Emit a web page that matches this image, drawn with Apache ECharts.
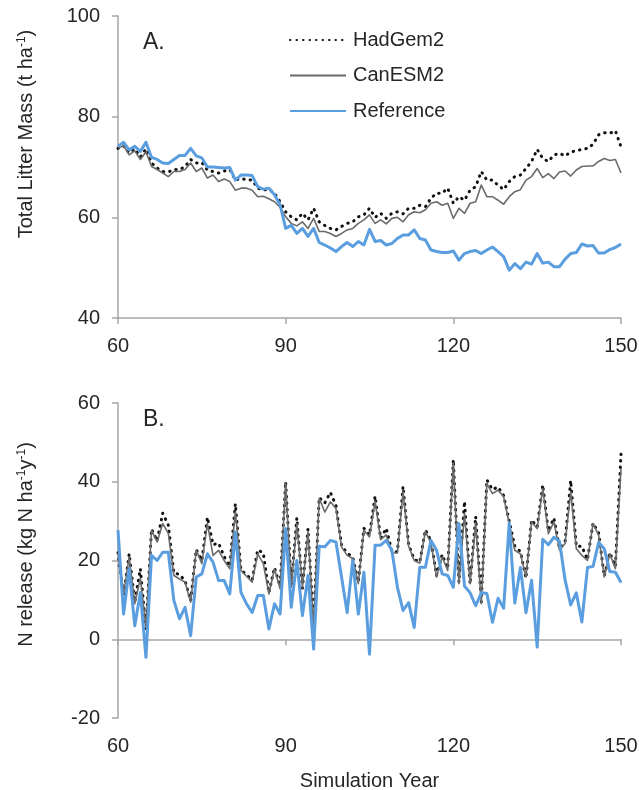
<!DOCTYPE html>
<html>
<head>
<meta charset="utf-8">
<script src="https://cdn.jsdelivr.net/npm/echarts/dist/echarts.min.js"></script>
<style>
  html, body { margin: 0; padding: 0; background: #ffffff; }
  #chart { width: 639px; height: 790px; }
</style>
</head>
<body>
<div id="chart"></div>
<script>
// Simulation years 60 … 150 (annual steps)
const firstYear = 60;
const lastYear = 150;
const xTicks = [60, 90, 120, 150];

const seriesNames = ['HadGem2', 'CanESM2', 'Reference'];

// Panel A: total litter mass (t ha-1), one value per year from 60 to 150
const litterHadGem2 = [
  73.7, 74.2, 72.8, 73.6, 72.0, 73.6, 70.8, 69.8, 69.1, 69.0,
  69.5, 69.5, 70.1, 71.5, 70.8, 70.9, 69.4, 69.1, 68.8, 69.2,
  69.5, 67.4, 67.7, 67.5, 67.4, 65.8, 65.4, 65.6, 64.8, 63.1,
  61.1, 60.1, 59.5, 60.8, 59.5, 61.8, 59.1, 58.4, 57.8, 57.5,
  58.2, 58.8, 59.1, 60.1, 60.5, 61.8, 60.0, 60.8, 59.8, 60.8,
  61.1, 60.7, 61.8, 61.8, 62.4, 62.1, 63.8, 64.8, 64.8, 65.8,
  62.8, 64.1, 63.4, 65.4, 66.1, 69.1, 67.4, 67.4, 66.4, 65.5,
  67.1, 68.1, 68.4, 69.7, 71.1, 73.5, 71.7, 71.1, 72.4, 72.7,
  72.2, 73.0, 73.2, 73.5, 73.7, 74.5, 76.4, 76.8, 76.7, 77.2,
  74.0
];
const litterCanESM2 = [
  73.7, 74.2, 72.4, 73.2, 71.5, 73.0, 70.1, 69.5, 68.8, 68.1,
  69.1, 69.1, 69.5, 70.8, 69.1, 69.8, 67.8, 68.4, 67.1, 67.6,
  67.1, 65.4, 65.8, 65.8, 65.4, 64.1, 64.2, 63.7, 63.1, 62.0,
  60.1, 58.8, 58.3, 59.1, 57.8, 59.8, 57.2, 57.2, 56.8, 56.2,
  56.8, 57.5, 57.8, 58.8, 59.5, 60.5, 58.8, 59.5, 58.7, 59.8,
  60.0, 59.1, 60.5, 61.1, 60.9, 61.5, 62.8, 63.1, 62.4, 62.8,
  59.8, 61.8, 60.8, 62.8, 63.1, 66.4, 64.1, 64.1, 63.4, 62.6,
  64.1, 65.1, 65.5, 67.4, 68.1, 69.7, 67.9, 68.7, 67.7, 69.0,
  69.2, 68.2, 69.4, 70.1, 70.2, 70.2, 71.1, 71.7, 71.3, 71.5,
  68.8
];
const litterReference = [
  74.1, 74.9, 73.4, 74.1, 73.1, 74.9, 71.9, 71.5, 70.8, 70.7,
  71.5, 72.3, 72.3, 73.7, 72.2, 71.8, 70.0, 70.0, 69.9, 69.8,
  69.9, 67.4, 68.4, 68.4, 68.3, 66.1, 65.6, 65.8, 64.5, 62.5,
  57.8, 58.4, 56.8, 57.8, 56.2, 57.8, 55.0, 54.5, 53.9, 53.2,
  54.2, 55.0, 54.2, 55.2, 54.5, 57.6, 55.2, 55.4, 54.5, 54.8,
  55.8, 56.5, 56.5, 57.5, 55.8, 55.5, 53.5, 53.2, 53.0, 53.0,
  53.3, 51.5, 52.8, 53.2, 53.4, 52.8, 53.5, 54.1, 53.2, 52.2,
  49.5, 50.8, 49.8, 51.1, 50.7, 52.8, 50.9, 51.1, 50.2, 50.2,
  51.7, 52.8, 53.0, 54.7, 54.3, 54.4, 52.9, 52.9, 53.6, 54.0,
  54.7
];

// Panel B: N release (kg N ha-1 y-1), one value per year from 60 to 150
const nHadGem2 = [
  22.0, 11.0, 21.7, 9.5, 17.9, 2.5, 28.0, 25.0, 32.0, 29.0,
  16.8, 16.5, 14.8, 9.8, 22.8, 20.0, 31.0, 24.0, 24.4, 21.0,
  18.5, 34.4, 17.6, 16.4, 15.0, 22.7, 21.9, 11.8, 18.2, 13.5,
  40.0, 13.6, 30.8, 13.0, 28.0, 3.5, 36.0, 34.6, 37.3, 34.0,
  23.8, 21.9, 20.8, 14.5, 28.2, 26.5, 36.3, 25.6, 28.2, 22.3,
  22.2, 38.8, 24.0, 20.3, 19.6, 27.8, 25.0, 16.2, 21.5, 18.0,
  45.6, 14.5, 35.0, 14.0, 31.2, 9.5, 40.5, 38.0, 38.7, 36.5,
  30.0, 23.6, 22.3, 15.5, 30.3, 28.5, 39.2, 27.5, 30.8, 23.0,
  24.8, 40.3, 23.6, 23.6, 20.2, 29.5, 27.0, 16.0, 22.0, 18.5,
  47.0
];
const nCanESM2 = [
  22.0, 11.5, 20.9, 9.0, 15.5, 3.0, 27.7, 24.7, 29.4, 26.9,
  16.2, 15.3, 14.5, 9.4, 22.6, 19.2, 29.4, 21.3, 22.6, 20.0,
  17.9, 32.3, 17.4, 16.0, 14.5, 21.7, 19.2, 11.5, 17.9, 12.8,
  39.6, 13.2, 29.4, 13.2, 27.2, 3.0, 35.8, 32.3, 34.9, 33.2,
  23.4, 21.3, 20.5, 14.1, 27.7, 26.0, 35.0, 25.3, 26.5, 21.9,
  21.9, 37.5, 23.6, 20.0, 19.3, 27.4, 24.4, 15.8, 20.9, 17.5,
  44.7, 14.1, 32.0, 14.1, 29.5, 9.0, 39.5, 37.0, 37.9, 36.2,
  29.4, 22.6, 21.7, 15.8, 29.8, 28.1, 38.3, 26.8, 29.8, 22.6,
  24.3, 37.5, 23.0, 21.3, 20.0, 29.4, 26.4, 15.8, 21.7, 17.9,
  43.4
];
const nReference = [
  27.7, 6.4, 17.9, 3.4, 11.9, -4.6, 21.3, 20.0, 22.1, 22.1,
  9.8, 5.2, 8.1, 0.9, 15.8, 16.6, 21.7, 19.6, 14.9, 14.9,
  11.5, 27.2, 11.9, 9.0, 6.8, 11.1, 11.1, 2.6, 9.0, 6.4,
  28.1, 8.1, 20.0, 6.0, 16.2, -2.5, 23.6, 23.5, 25.1, 24.7,
  15.8, 6.8, 20.0, 6.4, 17.0, -3.8, 23.9, 23.9, 25.1, 22.6,
  13.2, 7.3, 9.3, 3.0, 18.3, 18.3, 25.1, 22.6, 16.6, 16.2,
  13.2, 29.4, 13.5, 11.8, 8.5, 11.8, 11.6, 4.3, 10.4, 7.9,
  29.5, 9.2, 18.2, 6.7, 15.0, -2.0, 25.4, 24.0, 25.9, 24.9,
  15.0, 8.7, 11.8, 4.4, 18.2, 18.5, 24.6, 23.0, 17.2, 17.0,
  14.4
];

const years = [];
for (let y = firstYear; y <= lastYear; y++) years.push(y);
const pairs = vals => years.map((yr, i) => [yr, vals[i]]);

const FONT = '"Liberation Sans", Arial, sans-serif';
const TEXT = '#262626';
const AXIS = '#a6a6a6';

const styles = {
  HadGem2:   { color: '#111111', width: 3,   type: [0.5, 6], cap: 'round' },
  CanESM2:   { color: '#6b6b6b', width: 1.6, type: 'solid',  cap: 'butt' },
  Reference: { color: '#5a9ee0', width: 3,   type: 'solid',  cap: 'butt' }
};

function lineSeries(name, vals, xi, yi) {
  const s = styles[name];
  return {
    name: name, type: 'line', xAxisIndex: xi, yAxisIndex: yi,
    data: pairs(vals), symbol: 'none', showSymbol: false,
    lineStyle: { color: s.color, width: s.width, type: s.type, cap: s.cap, join: 'round' },
    itemStyle: { color: s.color },
    emphasis: { disabled: true }, silent: true
  };
}

const axisLine = { show: true, lineStyle: { color: AXIS, width: 1.5 } };
const axisTick = { show: true, inside: false, length: 6, lineStyle: { color: AXIS, width: 1.5 } };
const labelStyle = { fontSize: 20, color: TEXT, fontFamily: FONT };

const richTitle = {
  n: { fontSize: 20, color: TEXT, fontFamily: FONT },
  s: { fontSize: 12, color: TEXT, fontFamily: FONT, verticalAlign: 'top' }
};

const chart = echarts.init(document.getElementById('chart'), null, { renderer: 'canvas' });
chart.setOption({
  animation: false,
  backgroundColor: '#ffffff',
  textStyle: { fontFamily: FONT },
  grid: [
    { left: 118, right: 18, top: 16, height: 302, containLabel: false, outerBoundsMode: 'none' },
    { left: 118, right: 18, top: 403, height: 315, containLabel: false, outerBoundsMode: 'none' }
  ],
  legend: {
    data: seriesNames,
    orient: 'vertical',
    left: 289, top: 30, padding: 0,
    itemWidth: 56, itemHeight: 14, itemGap: 15.5,
    itemStyle: { opacity: 0, borderWidth: 0 },
    textStyle: { fontSize: 20, color: TEXT, fontFamily: FONT, padding: [0, 0, 0, 2] },
    selectedMode: false
  },
  xAxis: [
    {
      gridIndex: 0, type: 'value', min: firstYear, max: lastYear, interval: 30,
      axisLine: Object.assign({ onZero: false }, axisLine), axisTick: axisTick,
      axisLabel: Object.assign({ margin: 18 }, labelStyle),
      splitLine: { show: false }
    },
    {
      // axis line crossing at zero with its tick marks
      gridIndex: 1, type: 'value', min: firstYear, max: lastYear, interval: 30, position: 'bottom',
      axisLine: Object.assign({ onZero: true }, axisLine), axisTick: axisTick,
      axisLabel: { show: false }, splitLine: { show: false }
    },
    {
      // year labels along the bottom edge of panel B
      gridIndex: 1, type: 'value', min: firstYear, max: lastYear, interval: 30, position: 'bottom',
      axisLine: { show: false, onZero: false }, axisTick: { show: false },
      axisLabel: Object.assign({ margin: 18 }, labelStyle),
      splitLine: { show: false },
      name: 'Simulation Year', nameLocation: 'middle', nameGap: 53,
      nameTextStyle: { fontSize: 20, color: TEXT, fontFamily: FONT }
    }
  ],
  yAxis: [
    {
      gridIndex: 0, type: 'value', min: 40, max: 100, interval: 20,
      axisLine: axisLine, axisTick: axisTick,
      axisLabel: Object.assign({ margin: 18 }, labelStyle),
      splitLine: { show: false },
      name: '{n|Total Litter Mass (t ha}{s|-1}{n|)}',
      nameLocation: 'middle', nameGap: 82,
      nameTextStyle: { rich: richTitle, padding: [0, 0, 0, 66] }
    },
    {
      gridIndex: 1, type: 'value', min: -20, max: 60, interval: 20,
      axisLine: axisLine, axisTick: axisTick,
      axisLabel: Object.assign({ margin: 18 }, labelStyle),
      splitLine: { show: false },
      name: '{n|N release (kg N ha}{s|-1}{n|y}{s|-1}{n|)}',
      nameLocation: 'middle', nameGap: 82,
      nameTextStyle: { rich: richTitle, padding: [0, 0, 0, 32] }
    }
  ],
  graphic: [
    { type: 'text', left: 143, top: 31, style: { text: 'A.', fontSize: 23, fill: TEXT, fontFamily: FONT } },
    { type: 'text', left: 143, top: 408, style: { text: 'B.', fontSize: 23, fill: TEXT, fontFamily: FONT } }
  ],
  series: [
    lineSeries('HadGem2', litterHadGem2, 0, 0),
    lineSeries('CanESM2', litterCanESM2, 0, 0),
    lineSeries('Reference', litterReference, 0, 0),
    lineSeries('HadGem2', nHadGem2, 1, 1),
    lineSeries('CanESM2', nCanESM2, 1, 1),
    lineSeries('Reference', nReference, 1, 1)
  ]
});
</script>
</body>
</html>
